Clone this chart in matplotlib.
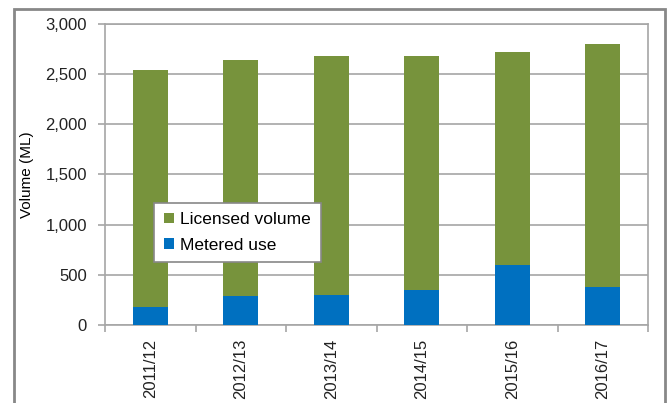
import matplotlib.pyplot as plt
import matplotlib.patches as mpatches
import numpy as np

plt.rcParams['font.family'] = ['Liberation Sans', 'DejaVu Sans']

years = ['2011/12', '2012/13', '2013/14', '2014/15', '2015/16', '2016/17']
licensed = [2540, 2645, 2680, 2680, 2725, 2800]
metered = [180, 288, 297, 345, 600, 380]

green = '#77933C'
blue = '#0070C0'
grid_col = '#A6A6A6'

fig = plt.figure(figsize=(6.68, 4.03), dpi=100)
ax = fig.add_axes([105 / 668, 1 - 325 / 403, 543 / 668, 301 / 403])

x = np.arange(len(years))
ax.bar(x, licensed, width=0.39, color=green, label='Licensed volume', zorder=2)
ax.bar(x, metered, width=0.39, color=blue, label='Metered use', zorder=3)

ax.set_xlim(-0.5, len(years) - 0.5)
ax.set_ylim(0, 3000)
ax.set_yticks(np.arange(0, 3001, 500))
ax.set_yticklabels([f'{v:,}' for v in range(0, 3001, 500)], fontsize=12, color='#222222')
ax.yaxis.grid(True, color=grid_col, linewidth=1.2, zorder=0)
ax.set_axisbelow(True)

ax.set_xticks(x)
ax.set_xticklabels(years, rotation=90, fontsize=12, color='#222222')
ax.tick_params(axis='x', length=0, pad=10)
ax.set_xticks(np.arange(-0.5, len(years)), minor=True)
ax.tick_params(axis='x', which='minor', length=5, color=grid_col, width=1.2)
ax.tick_params(axis='y', length=5, color=grid_col, width=1.2, pad=8)

for s in ax.spines.values():
    s.set_color(grid_col)
    s.set_linewidth(1.2)

ax.set_ylabel('Volume (ML)', fontsize=11, labelpad=8)

leg = ax.legend(loc='lower left', bbox_to_anchor=(0.075, 0.18), fontsize=12.5,
                frameon=True, fancybox=False, framealpha=1,
                handlelength=0.55, handleheight=0.55,
                handletextpad=0.4, borderpad=0.55, labelspacing=0.6)
leg.get_frame().set_edgecolor('#888888')
leg.get_frame().set_linewidth(1.2)

# outer chart frame
fig.patches.append(mpatches.Rectangle((14 / 668, -0.05), 651 / 668, 1 - 9 / 403 + 0.05,
                                      transform=fig.transFigure, fill=False,
                                      edgecolor='#888888', linewidth=2))

fig.savefig('out.png', dpi=100)
